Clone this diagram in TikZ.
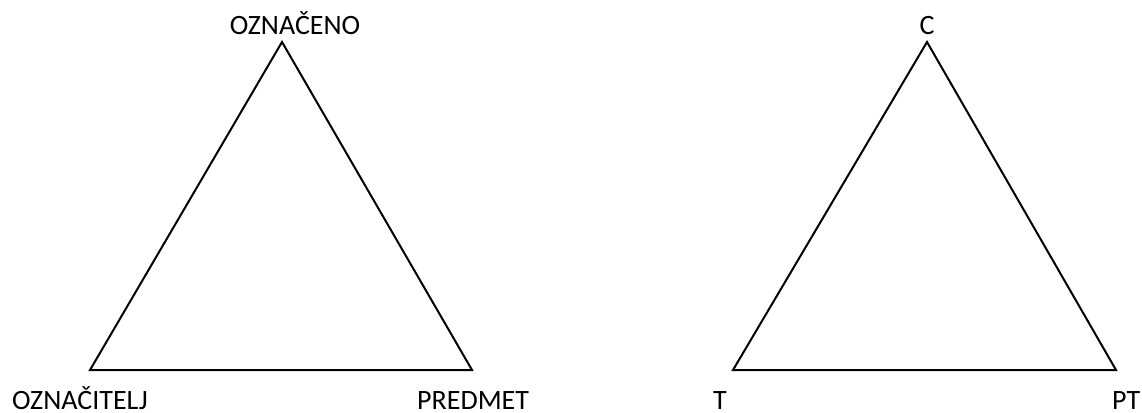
\documentclass[tikz,border=0pt]{standalone}
\usepackage{fontspec}
\setmainfont{Carlito}
\begin{document}
\begin{tikzpicture}[x=1pt,y=-1pt,
  lbl/.style={inner sep=0pt,font=\fontsize{28}{32}\selectfont},
  tri/.style={draw=black,line width=2pt,line join=miter}]
\useasboundingbox (0,0) rectangle (1142,412);
% left triangle
\coordinate (la) at (282,42);
\coordinate (lb) at (90,370);
\coordinate (lc) at (472,370);
\draw[tri] (lb) -- (la) -- (lc) -- cycle;
% right triangle
\coordinate (ra) at (927,42);
\coordinate (rb) at (733,370);
\coordinate (rc) at (1116,370);
\draw[tri] (rb) -- (ra) -- (rc) -- cycle;
% labels
\node[lbl,anchor=base] (oznaceno) at (295,35) {OZNAČENO};
\node[lbl,anchor=base west] (oznacitelj) at (12,409) {OZNAČITELJ};
\node[lbl,anchor=base west] (predmet) at (417,409) {PREDMET};
\node[lbl,anchor=base] (c) at (927,35) {C};
\node[lbl,anchor=base west] (t) at (713,409) {T};
\node[lbl,anchor=base west] (pt) at (1112,409) {PT};
\end{tikzpicture}
\end{document}
